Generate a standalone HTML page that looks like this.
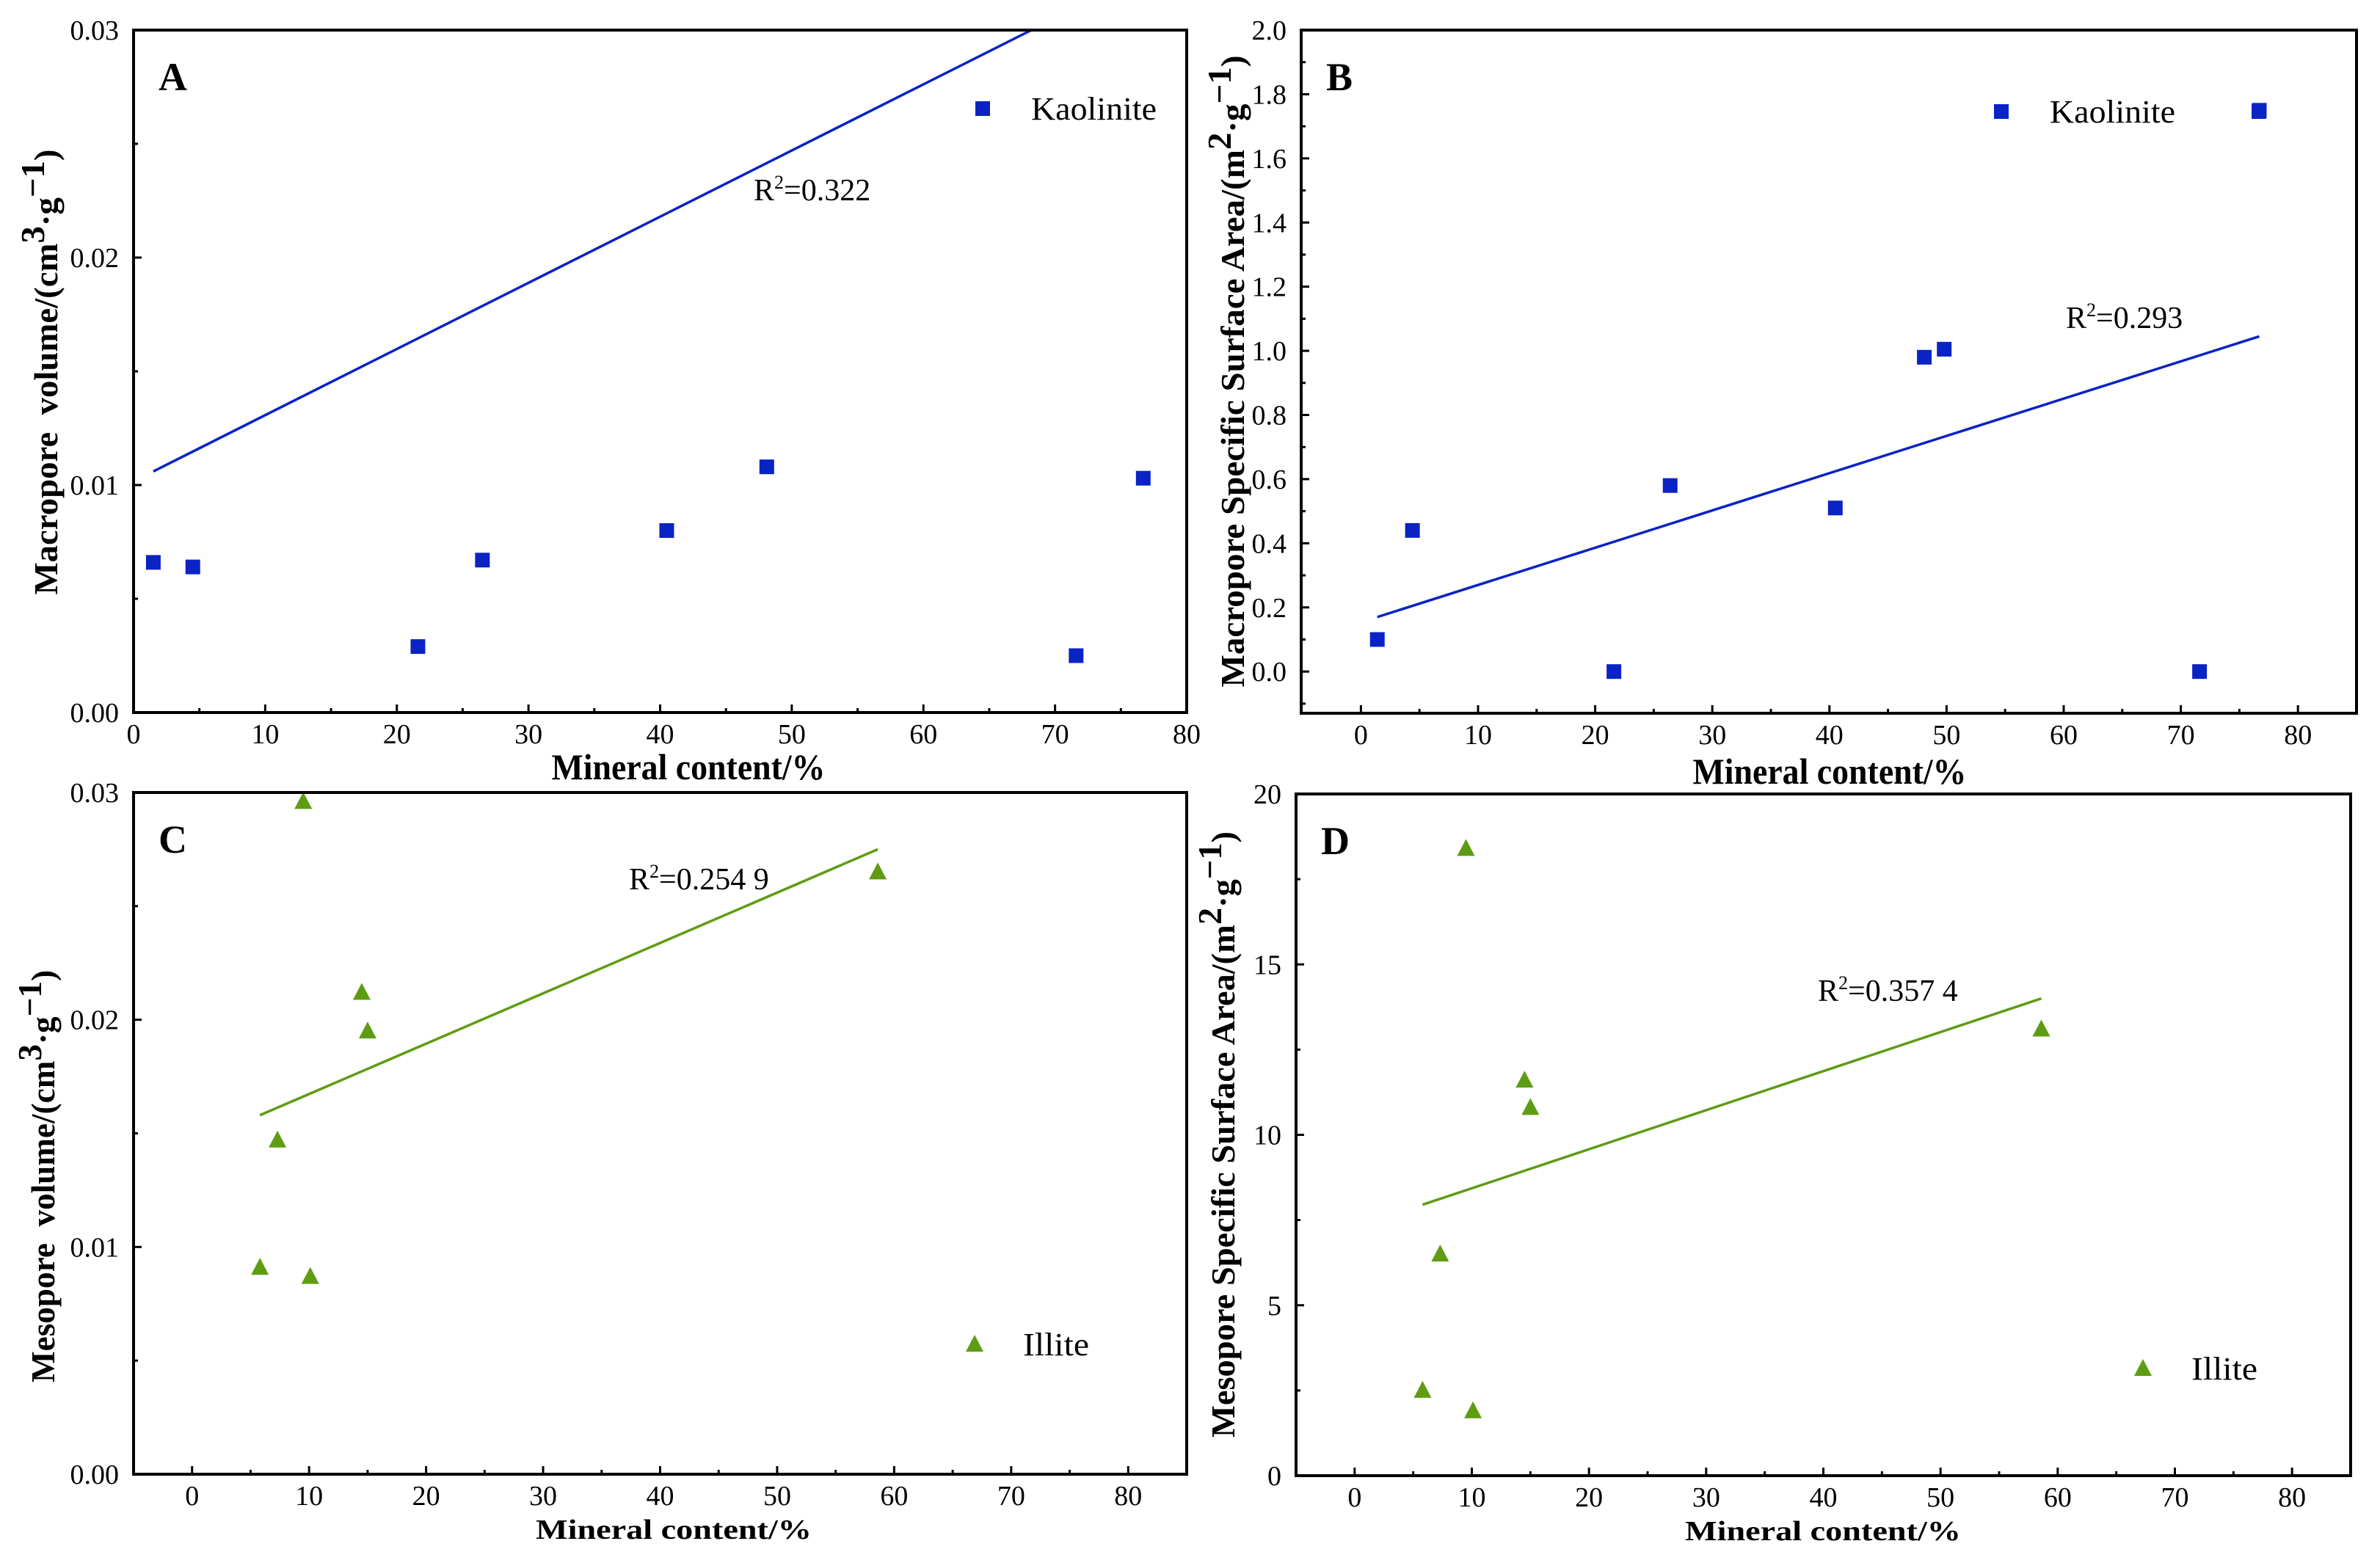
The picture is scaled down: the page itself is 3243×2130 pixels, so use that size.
<!DOCTYPE html>
<html><head><meta charset="utf-8"><style>
html,body{margin:0;padding:0;background:#fff;}
svg{display:block;font-family:"Liberation Serif",serif;}
</style></head><body>
<svg id="fig" width="3243" height="2130" viewBox="0 0 3243 2130" xmlns="http://www.w3.org/2000/svg"></svg>
<script>
// ---- data ----
const xTicks = [0,10,20,30,40,50,60,70,80];
const aX = [1.5,4.5,21.6,26.5,40.5,48.1,71.6,76.7];
const aY = [0.0066,0.0064,0.0029,0.0067,0.0080,0.0108,0.0025,0.0103];
const aFitX = [1.5,68.2];
const aFitY = [0.0106,0.0300];
const aYTicks = ["0.00","0.01","0.02","0.03"];
const bX = [1.4,4.4,21.6,26.4,40.5,48.1,49.8,71.6,76.7];
const bY = [0.10,0.44,0.00,0.58,0.51,0.98,1.005,0.00,1.75];
const bFitX = [1.4,76.7];
const bFitY = [0.17,1.045];
const bYTicks = ["0.0","0.2","0.4","0.6","0.8","1.0","1.2","1.4","1.6","1.8","2.0"];
const cX = [5.8,7.3,9.5,10.1,14.5,15.0,58.6];
const cY = [0.0091,0.0147,0.0296,0.0087,0.0212,0.0195,0.0265];
const cFitX = [5.8,58.6];
const cFitY = [0.0158,0.0275];
const cYTicks = ["0.00","0.01","0.02","0.03"];
const dX = [5.8,7.3,9.5,10.1,14.5,15.0,58.6];
const dY = [2.5,6.5,18.4,1.9,11.6,10.8,13.1];
const dFitX = [5.8,58.6];
const dFitY = [7.95,14.0];
const dYTicks = ["0","5","10","15","20"];

const NS="http://www.w3.org/2000/svg";
const svg=document.getElementById('fig');
function mk(tag,attrs,parent){const e=document.createElementNS(NS,tag);for(const k in attrs)e.setAttribute(k,attrs[k]);(parent||svg).appendChild(e);return e;}

function panel(cfg){
  const g=mk('g',{});
  
  
  const sx=v=>cfg.L+(v-cfg.x0)/(cfg.x1-cfg.x0)*(cfg.R-cfg.L);
  const sy=v=>cfg.B-(v-cfg.y0)/(cfg.y1-cfg.y0)*(cfg.B-cfg.T);
  // x ticks
  xTicks.forEach((t,i)=>{
    const x=sx(t);
    const tk=mk('line',{x1:x,x2:x,y1:cfg.B,y2:cfg.B-11,stroke:'#000','stroke-width':3},g);
    
    
    const lb=mk('text',{x:x,y:cfg.B+42,'font-size':38,'text-anchor':'middle'},g);
    lb.textContent=t;
    
    
    if(i<xTicks.length-1){const xm=sx(t+5);mk('line',{x1:xm,x2:xm,y1:cfg.B,y2:cfg.B-6,stroke:'#000','stroke-width':3},g);}
  });
  if(cfg.x0<0){const xm=sx(-5);}
  // y ticks
  const n=cfg.yTicks.length;
  cfg.yTicks.forEach((t,i)=>{
    const v=parseFloat(t);const y=sy(v);
    const tk=mk('line',{x1:cfg.L,x2:cfg.L+11,y1:y,y2:y,stroke:'#000','stroke-width':3},g);
    
    
    const lb=mk('text',{x:cfg.L-20,y:y+13,'font-size':38,'text-anchor':'end'},g);
    lb.textContent=t;
    
    
    if(i<n-1){const step=parseFloat(cfg.yTicks[1])-parseFloat(cfg.yTicks[0]);const ym=sy(v+step/2);mk('line',{x1:cfg.L,x2:cfg.L+6,y1:ym,y2:ym,stroke:'#000','stroke-width':3},g);}
    if(i==0 && cfg.y0<v){const step=parseFloat(cfg.yTicks[1])-parseFloat(cfg.yTicks[0]);const ym=sy(v-step/2);if(ym<cfg.B)mk('line',{x1:cfg.L,x2:cfg.L+6,y1:ym,y2:ym,stroke:'#000','stroke-width':3},g);}
  });
  // fit line
  const fl=mk('line',{x1:sx(cfg.fx[0]),y1:sy(cfg.fy[0]),x2:sx(cfg.fx[1]),y2:sy(cfg.fy[1]),stroke:cfg.color,'stroke-width':3.5},g);
  
  
  // points
  function marker(x,y,parent){
    let m;
    if(cfg.shape==='sq') m=mk('rect',{x:x-10,y:y-10,width:20,height:20,fill:cfg.color},parent);
    else m=mk('polygon',{points:`${x},${y-13} ${x+12},${y+10} ${x-12},${y+10}`,fill:cfg.color},parent);
    return m;
  }
  cfg.xs.forEach((xv,i)=>{
    const m=marker(sx(xv),sy(cfg.ys[i]),g);
    
    
  });
  // frame
  const fr=mk('rect',{x:cfg.L,y:cfg.T,width:cfg.R-cfg.L,height:cfg.B-cfg.T,fill:'none',stroke:'#000','stroke-width':4},g);
  
  
  // letter
  const le=mk('text',{x:cfg.L+34,y:cfg.T+82,'font-size':54,'font-weight':'bold'},g);
  le.textContent=cfg.letter;
  
  
  // legend
  const lm=marker(cfg.legX,cfg.legY,g);
  
  
  const lt=mk('text',{x:cfg.legX+66,y:cfg.legY+15,'font-size':44,textLength:cfg.legW,lengthAdjust:'spacingAndGlyphs'},g);
  lt.textContent=cfg.legText;
  
  
  if(cfg.extra){const em=marker(cfg.extra[0],cfg.extra[1],g);
    
    }
  // R2
  const r=mk('text',{x:cfg.rX,y:cfg.rY,'font-size':42},g);
  
  
  r.innerHTML='R<tspan font-size="26" dy="-16">2</tspan><tspan dy="16">='+cfg.rVal+'</tspan>';
  // x title
  const xt=mk('text',{x:cfg.xtX,y:cfg.xtY,'font-size':cfg.xtF,'font-weight':'bold','text-anchor':'middle',textLength:cfg.xtW,lengthAdjust:'spacingAndGlyphs'},g);
  xt.textContent='Mineral content/%';
  
  
  // y title
  const yt=mk('text',{transform:`translate(${cfg.ytX},${cfg.ytY}) rotate(-90)`,'font-size':46,'font-weight':'bold','text-anchor':'middle',textLength:cfg.ytW,lengthAdjust:'spacingAndGlyphs'},g);
  yt.innerHTML=cfg.ytText;
  
  
}

panel({name:'panel-a',L:182,R:1617,T:41,B:971,x0:0,x1:80,y0:0,y1:0.03,yTicks:aYTicks,xs:aX,ys:aY,fx:aFitX,fy:aFitY,
  color:'#0a23c4',shape:'sq',letter:'A',legX:1339,legY:148,legText:'Kaolinite',legW:171,rX:1027,rY:273,rVal:'0.322',
  xtX:938,xtY:1062,xtF:50,xtW:373,ytX:78,ytY:507,ytW:607,
  ytText:'Macropore&#160;&#160;volume/(cm<tspan dy="-18">3</tspan><tspan dy="18">·g</tspan><tspan dy="-18">−1</tspan><tspan dy="18">)</tspan>'});
panel({name:'panel-b',L:1773,R:3211,T:41,B:972,x0:-5.1,x1:85,y0:-0.13,y1:2.0,yTicks:bYTicks,xs:bX,ys:bY,fx:bFitX,fy:bFitY,
  color:'#0a23c4',shape:'sq',letter:'B',legX:2727,legY:152,legText:'Kaolinite',legW:171,rX:2815,rY:447,rVal:'0.293',
  extra:[3078,152],
  xtX:2493,xtY:1068,xtF:50,xtW:373,ytX:1695,ytY:506,ytW:861,
  ytText:'Macropore Specific Surface Area/(m<tspan dy="-18">2</tspan><tspan dy="18">·g</tspan><tspan dy="-18">−1</tspan><tspan dy="18">)</tspan>'});
panel({name:'panel-c',L:182,R:1617,T:1080,B:2009,x0:-5,x1:85,y0:0,y1:0.03,yTicks:cYTicks,xs:cX,ys:cY,fx:cFitX,fy:cFitY,
  color:'#5e9c12',shape:'tri',letter:'C',legX:1328,legY:1832,legText:'Illite',legW:90,rX:857,rY:1212,rVal:'0.254 9',
  xtX:918,xtY:2097,xtF:38,xtW:376,ytX:74,ytY:1603,ytW:562,
  ytText:'Mesopore&#160;&#160;volume/(cm<tspan dy="-18">3</tspan><tspan dy="18">·g</tspan><tspan dy="-18">−1</tspan><tspan dy="18">)</tspan>'});
panel({name:'panel-d',L:1766,R:3203,T:1082,B:2011,x0:-5,x1:85,y0:0,y1:20,yTicks:dYTicks,xs:dX,ys:dY,fx:dFitX,fy:dFitY,
  color:'#5e9c12',shape:'tri',letter:'D',legX:2920,legY:1865,legText:'Illite',legW:90,rX:2477,rY:1364,rVal:'0.357 4',
  xtX:2484,xtY:2099,xtF:38,xtW:376,ytX:1682,ytY:1546,ytW:826,
  ytText:'Mesopore Specific Surface Area/(m<tspan dy="-18">2</tspan><tspan dy="18">·g</tspan><tspan dy="-18">−1</tspan><tspan dy="18">)</tspan>'});
</script>
</body></html>
